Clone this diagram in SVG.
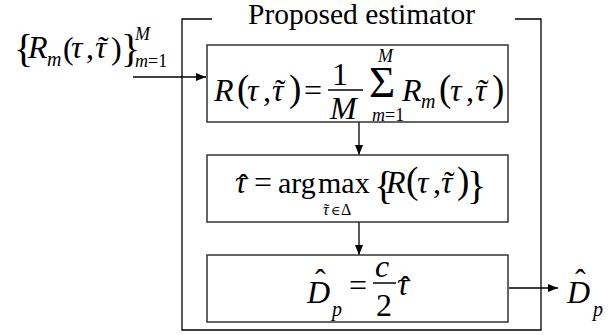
<svg xmlns="http://www.w3.org/2000/svg" width="616" height="335" viewBox="0 0 616 335" font-family="Liberation Serif">
<defs>
<marker id="ah" markerUnits="userSpaceOnUse" markerWidth="10" markerHeight="8" refX="10" refY="4" orient="auto">
<path d="M0,0 L10,4 L0,8 z" fill="#000"/>
</marker>
</defs>
<g id="frame">
<path d="M212,19 H182 V330 H541 V19 H515" fill="none" stroke="#000" stroke-width="1.3"/>
<text font-family="Liberation Serif" x="361.5" y="24" font-size="29.5" text-anchor="middle">Proposed estimator</text>
</g>
<g id="connectors" fill="none" stroke="#000" stroke-width="1.3">
<line x1="133" y1="77" x2="206" y2="77" marker-end="url(#ah)"/>
<line x1="359" y1="122" x2="359" y2="155" marker-end="url(#ah)"/>
<line x1="359" y1="222" x2="359" y2="255" marker-end="url(#ah)"/>
<line x1="509" y1="288" x2="558" y2="288" marker-end="url(#ah)"/>
</g>
<g id="input" font-family="Liberation Serif" font-size="32">
<text font-family="Liberation Serif" font-size="40" x="14" y="62">{</text>
<text font-family="Liberation Serif" font-style="italic" x="28" y="58">R</text>
<text font-family="Liberation Serif" font-style="italic" font-size="20" x="47" y="66">m</text>
<text font-family="Liberation Serif" x="63" y="59">(</text>
<text font-family="Liberation Serif" font-style="italic" x="71" y="58">τ</text>
<text font-family="Liberation Serif" x="86" y="58">,</text>
<text font-family="Liberation Serif" font-style="italic" x="95" y="58">τ</text>
<text font-family="Liberation Serif" x="98" y="58">˜</text>
<text font-family="Liberation Serif" x="111" y="59">)</text>
<text font-family="Liberation Serif" font-size="40" x="121" y="62">}</text>
<text font-family="Liberation Serif" font-style="italic" font-size="18" x="135" y="40">M</text>
<text font-family="Liberation Serif" font-size="18" x="135" y="67"><tspan font-style="italic">m</tspan>=1</text>
</g>
<g id="box1" font-family="Liberation Serif" font-size="32">
<rect x="207" y="45" width="301" height="77" fill="#fff" stroke="#333" stroke-width="1.5"/>
<text font-family="Liberation Serif" font-style="italic" x="214" y="101">R</text>
<text font-family="Liberation Serif" font-size="37" x="237" y="101">(</text>
<text font-family="Liberation Serif" font-style="italic" x="247" y="101">τ</text>
<text font-family="Liberation Serif" x="263" y="101">,</text>
<text font-family="Liberation Serif" font-style="italic" x="272" y="101">τ</text>
<text font-family="Liberation Serif" x="275" y="101">˜</text>
<text font-family="Liberation Serif" font-size="37" x="289" y="101">)</text>
<text font-family="Liberation Serif" x="304" y="101">=</text>
<text font-family="Liberation Serif" x="332" y="85">1</text>
<line x1="328" y1="90" x2="363" y2="90" stroke="#000" stroke-width="1.5"/>
<text font-family="Liberation Serif" font-style="italic" x="330" y="119">M</text>
<text font-family="Liberation Serif" font-size="45" x="369" y="97">Σ</text>
<text font-family="Liberation Serif" font-style="italic" font-size="18" x="378" y="62">M</text>
<text font-family="Liberation Serif" font-size="18" x="372" y="121"><tspan font-style="italic">m</tspan>=1</text>
<text font-family="Liberation Serif" font-style="italic" x="402" y="101">R</text>
<text font-family="Liberation Serif" font-style="italic" font-size="20" x="421" y="108">m</text>
<text font-family="Liberation Serif" font-size="37" x="439" y="101">(</text>
<text font-family="Liberation Serif" font-style="italic" x="450" y="101">τ</text>
<text font-family="Liberation Serif" x="466" y="101">,</text>
<text font-family="Liberation Serif" font-style="italic" x="475" y="101">τ</text>
<text font-family="Liberation Serif" x="478" y="101">˜</text>
<text font-family="Liberation Serif" font-size="37" x="492" y="101">)</text>
</g>
<g id="box2" font-family="Liberation Serif" font-size="32">
<rect x="207" y="155" width="301" height="67" fill="#fff" stroke="#333" stroke-width="1.5"/>
<text font-family="Liberation Serif" font-style="italic" x="235" y="193">τ</text>
<text font-family="Liberation Serif" x="238" y="196">ˆ</text>
<text font-family="Liberation Serif" x="254" y="193">=</text>
<text font-family="Liberation Serif" font-size="30" x="278" y="193">arg</text>
<text font-family="Liberation Serif" font-size="30" x="318" y="193">max</text>
<text font-family="Liberation Serif" font-style="italic" font-size="16" x="323" y="215">τ</text>
<text font-family="Liberation Serif" font-size="16" x="324" y="215">˜</text>
<text font-family="DejaVu Serif" font-size="13" x="331" y="215">∈</text>
<text font-family="Liberation Serif" font-size="16" x="341" y="215">Δ</text>
<text font-family="Liberation Serif" font-size="40" x="374" y="199">{</text>
<text font-family="Liberation Serif" font-style="italic" x="386" y="193">R</text>
<text font-family="Liberation Serif" font-size="37" x="406" y="193">(</text>
<text font-family="Liberation Serif" font-style="italic" x="417" y="193">τ</text>
<text font-family="Liberation Serif" x="433" y="193">,</text>
<text font-family="Liberation Serif" font-style="italic" x="441" y="193">τ</text>
<text font-family="Liberation Serif" x="444" y="193">˜</text>
<text font-family="Liberation Serif" font-size="37" x="457" y="193">)</text>
<text font-family="Liberation Serif" font-size="40" x="467" y="199">}</text>
</g>
<g id="box3" font-family="Liberation Serif" font-size="32">
<rect x="207" y="255" width="301" height="67" fill="#fff" stroke="#333" stroke-width="1.5"/>
<text font-family="Liberation Serif" font-style="italic" x="307" y="303">D</text>
<text font-family="Liberation Serif" x="315" y="291">ˆ</text>
<text font-family="Liberation Serif" font-style="italic" font-size="20" x="332" y="316">p</text>
<text font-family="Liberation Serif" x="349" y="296">=</text>
<text font-family="Liberation Serif" font-style="italic" x="375" y="277">c</text>
<line x1="373" y1="283" x2="396" y2="283" stroke="#000" stroke-width="1.5"/>
<text font-family="Liberation Serif" x="376" y="316">2</text>
<text font-family="Liberation Serif" font-style="italic" x="397" y="295">τ</text>
<text font-family="Liberation Serif" x="400" y="298">ˆ</text>
</g>
<g id="output" font-family="Liberation Serif" font-size="32">
<text font-family="Liberation Serif" font-style="italic" x="567" y="303">D</text>
<text font-family="Liberation Serif" x="575" y="291">ˆ</text>
<text font-family="Liberation Serif" font-style="italic" font-size="20" x="593" y="316">p</text>
</g>
</svg>
